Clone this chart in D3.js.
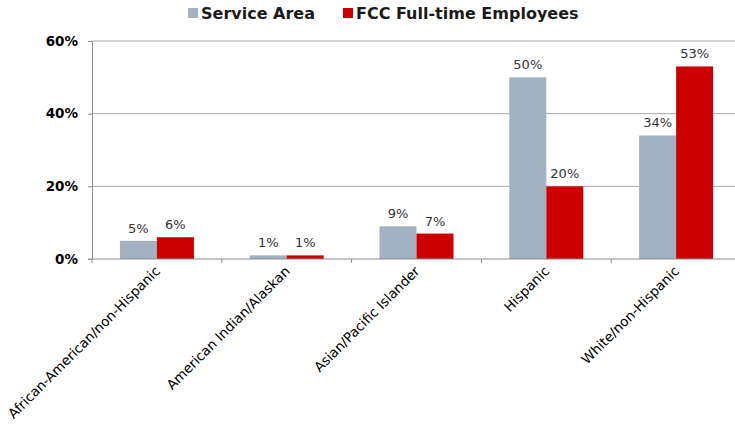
<!DOCTYPE html>
<html>
<head>
<meta charset="utf-8">
<script src="https://cdn.jsdelivr.net/npm/d3@7"></script>
<style>
  body { margin: 0; background: #fff; }
  svg { display: block; }
</style>
</head>
<body>
<svg id="chart" width="735" height="428"></svg>
<script>
const categories = ["African-American/non-Hispanic", "American Indian/Alaskan", "Asian/Pacific Islander", "Hispanic", "White/non-Hispanic"];
const seriesNames = ["Service Area", "FCC Full-time Employees"];
const serviceArea = [5, 1, 9, 50, 34];
const fccEmployees = [6, 1, 7, 20, 53];
const yTicks = [0, 20, 40, 60];
const colors = ["#a3b1c0", "#cc0000"];

const svg = d3.select("#chart");
const plotLeft = 92, plotRight = 741, plotTop = 41, plotBottom = 259;

const x = d3.scaleBand().domain(categories).range([plotLeft, plotRight]).paddingInner(0).paddingOuter(0);
const x1 = d3.scaleBand().domain(seriesNames).range([0, 74]);
const y = d3.scaleLinear().domain([0, 60]).range([plotBottom, plotTop]);

// gridlines
svg.append("g")
  .selectAll("line")
  .data(yTicks.filter(d => d > 0))
  .enter().append("line")
  .attr("x1", plotLeft).attr("x2", plotRight)
  .attr("y1", d => y(d)).attr("y2", d => y(d))
  .attr("stroke", "#a6a6a6").attr("stroke-width", 1);

// y axis
const yAxis = svg.append("g")
  .attr("transform", "translate(" + plotLeft + ",0)")
  .call(d3.axisLeft(y).tickValues(yTicks).tickFormat(d => d + "%").tickSizeOuter(0).tickSize(4).tickPadding(10));
yAxis.select(".domain").attr("stroke", "#8c8c8c");
yAxis.selectAll(".tick line").attr("stroke", "#8c8c8c");
yAxis.selectAll("text")
  .attr("font-family", "DejaVu Sans, Verdana, sans-serif")
  .attr("font-weight", "bold")
  .attr("font-size", 13.5)
  .attr("fill", "#000");

// bars
const data = categories.map((c, i) => ({ cat: c, vals: [serviceArea[i], fccEmployees[i]] }));
const groups = svg.append("g").selectAll("g")
  .data(data).enter().append("g")
  .attr("transform", d => "translate(" + (x(d.cat) + (x.bandwidth() - 74) / 2) + ",0)");

groups.selectAll("rect")
  .data(d => d.vals.map((v, j) => ({ s: seriesNames[j], v: v, j: j })))
  .enter().append("rect")
  .attr("x", d => x1(d.s))
  .attr("width", x1.bandwidth())
  .attr("y", d => y(d.v))
  .attr("height", d => y(0) - y(d.v))
  .attr("fill", d => colors[d.j]);

groups.selectAll("text")
  .data(d => d.vals.map((v, j) => ({ s: seriesNames[j], v: v })))
  .enter().append("text")
  .attr("x", d => x1(d.s) + x1.bandwidth() / 2)
  .attr("y", d => y(d.v) - 8)
  .attr("text-anchor", "middle")
  .attr("font-family", "DejaVu Sans, Verdana, sans-serif")
  .attr("font-size", 13)
  .attr("fill", "#333")
  .text(d => d.v + "%");

// x axis
const xAxis = svg.append("g")
  .attr("transform", "translate(0," + plotBottom + ")");
xAxis.append("line")
  .attr("x1", plotLeft - 4).attr("x2", plotRight)
  .attr("stroke", "#8c8c8c");
xAxis.selectAll("line.tk")
  .data(d3.range(categories.length + 1))
  .enter().append("line")
  .attr("class", "tk")
  .attr("x1", i => plotLeft + i * x.bandwidth()).attr("x2", i => plotLeft + i * x.bandwidth())
  .attr("y1", 0).attr("y2", 4)
  .attr("stroke", "#8c8c8c");
xAxis.selectAll("text")
  .data(categories)
  .enter().append("text")
  .attr("transform", d => "translate(" + (x(d) + x.bandwidth() / 2 + 4) + ",13) rotate(-45)")
  .attr("text-anchor", "end")
  .attr("font-family", "DejaVu Sans, Verdana, sans-serif")
  .attr("font-size", 13.5)
  .attr("fill", "#000")
  .text(d => d);

// legend
const legendX = [188, 343];
const legend = svg.append("g").selectAll("g")
  .data(seriesNames).enter().append("g")
  .attr("transform", (d, i) => "translate(" + legendX[i] + ",8)");
legend.append("rect")
  .attr("width", 10).attr("height", 10)
  .attr("fill", (d, i) => colors[i]);
legend.append("text")
  .attr("x", 13).attr("y", 11)
  .attr("font-family", "DejaVu Sans, Verdana, sans-serif")
  .attr("font-weight", "bold")
  .attr("font-size", 16)
  .attr("fill", "#1a1a1a")
  .text(d => d);
</script>
</body>
</html>
